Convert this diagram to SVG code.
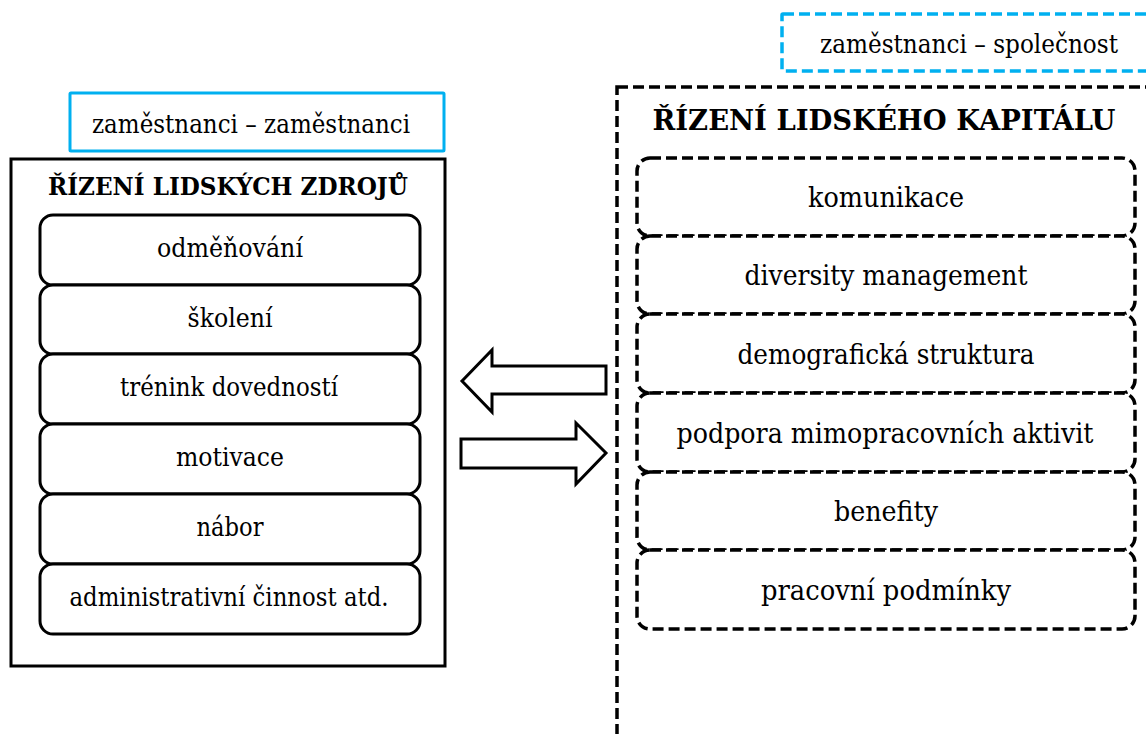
<svg xmlns="http://www.w3.org/2000/svg" width="1146" height="734" viewBox="0 0 1146 734">
<style>
text{fill:#000;text-anchor:middle}
.lt{font-size:26px}
.rt{font-size:28px}
.title{font-weight:bold}
.solid{fill:#fff;stroke:#000;stroke-width:3}
.dash{fill:#fff;stroke:#000;stroke-width:3.5;stroke-dasharray:11 5}
.blue{fill:#fff;stroke:#00B0F0;stroke-width:3}
.bluedash{fill:#fff;stroke:#00B0F0;stroke-width:3.5;stroke-dasharray:11 5}
.arrow{fill:#fff;stroke:#000;stroke-width:3;stroke-linejoin:miter}
</style>
<rect width="1146" height="734" fill="#fff"/>
<g font-family="DejaVu Serif, serif">
<g id="label-left">
<rect class="blue" x="70" y="93" width="374" height="58" rx="1"/>
<text class="lt" x="251" y="133" textLength="318" lengthAdjust="spacingAndGlyphs">zaměstnanci – zaměstnanci</text>
</g>
<g id="label-right">
<rect class="bluedash" x="782" y="14" width="380" height="57" rx="1"/>
<text class="lt" x="969" y="53" textLength="298" lengthAdjust="spacingAndGlyphs">zaměstnanci – společnost</text>
</g>
<g id="hr-management">
<rect class="solid" x="11" y="159" width="434" height="507"/>
<text class="title" style="font-size:24.3px" x="228" y="195" textLength="360" lengthAdjust="spacingAndGlyphs">ŘÍZENÍ LIDSKÝCH ZDROJŮ</text>
</g>
<g id="l1"><rect class="solid" x="40" y="215" width="380" height="70" rx="13"/><text class="lt" x="230" y="257" textLength="146" lengthAdjust="spacingAndGlyphs">odměňování</text></g>
<g id="l2"><rect class="solid" x="40" y="285" width="380" height="69" rx="13"/><text class="lt" x="230" y="327" textLength="85" lengthAdjust="spacingAndGlyphs">školení</text></g>
<g id="l3"><rect class="solid" x="40" y="354" width="380" height="70" rx="13"/><text class="lt" x="229" y="396" textLength="218" lengthAdjust="spacingAndGlyphs">trénink dovedností</text></g>
<g id="l4"><rect class="solid" x="40" y="424" width="380" height="70" rx="13"/><text class="lt" x="230" y="466" textLength="108" lengthAdjust="spacingAndGlyphs">motivace</text></g>
<g id="l5"><rect class="solid" x="40" y="494" width="380" height="70" rx="13"/><text class="lt" x="230" y="536" textLength="67" lengthAdjust="spacingAndGlyphs">nábor</text></g>
<g id="l6"><rect class="solid" x="40" y="564" width="380" height="70" rx="13"/><text class="lt" x="229" y="606" textLength="319" lengthAdjust="spacingAndGlyphs">administrativní činnost atd.</text></g>
<g id="hc-management">
<rect class="dash" x="617" y="87" width="560" height="700"/>
<text class="title" style="font-size:28.7px" x="884" y="130" textLength="463" lengthAdjust="spacingAndGlyphs">ŘÍZENÍ LIDSKÉHO KAPITÁLU</text>
</g>
<g id="r1"><rect class="dash" x="637" y="158" width="498" height="78" rx="13"/><text class="rt" x="886" y="207" textLength="156" lengthAdjust="spacingAndGlyphs">komunikace</text></g>
<g id="r2"><rect class="dash" x="637" y="236" width="498" height="78" rx="13"/><text class="rt" x="886" y="285" textLength="283" lengthAdjust="spacingAndGlyphs">diversity management</text></g>
<g id="r3"><rect class="dash" x="637" y="314" width="498" height="79" rx="13"/><text class="rt" x="886" y="364" textLength="297" lengthAdjust="spacingAndGlyphs">demografická struktura</text></g>
<g id="r4"><rect class="dash" x="637" y="393" width="498" height="79" rx="13"/><text class="rt" x="885" y="443" textLength="417" lengthAdjust="spacingAndGlyphs">podpora mimopracovních aktivit</text></g>
<g id="r5"><rect class="dash" x="637" y="472" width="498" height="78" rx="13"/><text class="rt" x="886" y="521" textLength="104" lengthAdjust="spacingAndGlyphs">benefity</text></g>
<g id="r6"><rect class="dash" x="637" y="550" width="498" height="79" rx="13"/><text class="rt" x="886" y="600" textLength="250" lengthAdjust="spacingAndGlyphs">pracovní podmínky</text></g>
</g>
<g id="connectors">
<polygon class="arrow" points="462,381 492,350 492,366 606,366 606,394 492,394 492,412"/>
<polygon class="arrow" points="461,439 576,439 576,423 606,453 576,484 576,468 461,468"/>
</g>
</svg>
